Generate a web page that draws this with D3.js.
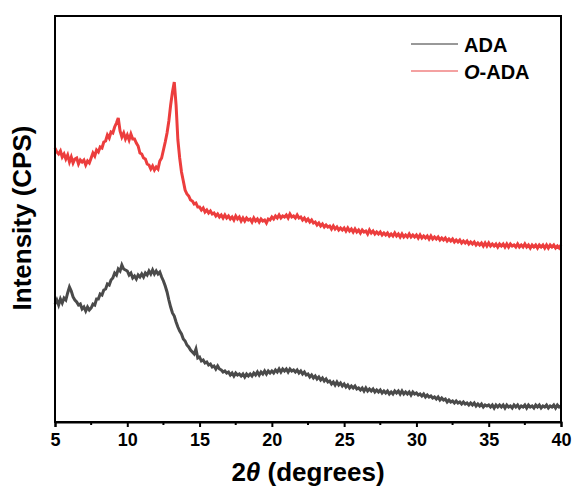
<!DOCTYPE html>
<html>
<head>
<meta charset="utf-8">
<script src="https://cdn.jsdelivr.net/npm/d3@7"></script>
<style>
  html, body { margin: 0; padding: 0; background: #fff; }
  svg { display: block; }
  text { font-family: "Liberation Sans", Arial, sans-serif; font-weight: bold; fill: #000; }
</style>
</head>
<body>
<svg id="chart" width="574" height="486"></svg>
<script>
// ---- data ----
const seriesNames = ["ADA", "O-ADA"];
const xTicks = [5, 10, 15, 20, 25, 30, 35, 40];
const xMinorTicks = [7.5, 12.5, 17.5, 22.5, 27.5, 32.5, 37.5];
const angleStart = 5, angleEnd = 40, angleStep = 0.125;
// intensities (CPS, arbitrary) sampled every 0.125 degrees from 5 to 40 (one row per degree)
const adaValues = [
  1180, 1220, 1170, 1230, 1190, 1240, 1220, 1290,   // 5
  1350, 1310, 1250, 1220, 1200, 1170, 1180, 1130,   // 6
  1150, 1110, 1150, 1120, 1140, 1180, 1170, 1230,   // 7
  1230, 1280, 1270, 1320, 1330, 1380, 1370, 1420,   // 8
  1440, 1490, 1470, 1530, 1510, 1570, 1530, 1520,   // 9
  1510, 1470, 1490, 1440, 1460, 1430, 1470, 1450,   // 10
  1480, 1450, 1490, 1470, 1510, 1480, 1520, 1480,   // 11
  1510, 1480, 1500, 1450, 1410, 1360, 1300, 1220,   // 12
  1150, 1090, 1060, 1000, 950, 910, 880, 830,       // 13
  810, 770, 750, 720, 700, 680, 730, 640,           // 14
  650, 610, 620, 590, 600, 570, 580, 550,           // 15
  560, 530, 560, 530, 520, 500, 510, 490,           // 16
  500, 470, 490, 460, 490, 470, 480, 460,           // 17
  480, 450, 480, 460, 480, 460, 490, 470,           // 18
  500, 470, 500, 480, 510, 480, 510, 490,           // 19
  510, 490, 520, 500, 530, 500, 530, 510,           // 20
  530, 500, 530, 510, 520, 500, 520, 490,           // 21
  510, 480, 500, 470, 480, 450, 470, 440,           // 22
  460, 430, 450, 420, 440, 410, 430, 400,           // 23
  410, 380, 400, 370, 400, 370, 390, 360,           // 24
  380, 350, 370, 340, 360, 340, 360, 330,           // 25
  340, 320, 340, 310, 340, 310, 330, 310,           // 26
  330, 300, 320, 300, 320, 290, 310, 290,           // 27
  310, 280, 300, 280, 310, 290, 310, 280,           // 28
  310, 280, 300, 280, 300, 270, 300, 280,           // 29
  290, 270, 280, 260, 280, 250, 270, 250,           // 30
  260, 240, 250, 230, 250, 220, 240, 220,           // 31
  230, 200, 220, 200, 210, 190, 210, 190,           // 32
  200, 180, 200, 180, 190, 170, 190, 170,           // 33
  190, 160, 180, 160, 180, 150, 170, 160,           // 34
  170, 150, 170, 140, 170, 150, 170, 150,           // 35
  170, 140, 170, 150, 160, 140, 170, 150,           // 36
  170, 140, 160, 150, 170, 140, 170, 150,           // 37
  160, 140, 170, 150, 170, 140, 160, 150,           // 38
  170, 140, 160, 150, 170, 140, 170, 150,           // 39
  160                                               // 40
];
const oAdaValues = [
  2740, 2700, 2680, 2710, 2650, 2680, 2630, 2670,   // 5
  2600, 2650, 2590, 2630, 2640, 2580, 2620, 2600,   // 6
  2620, 2570, 2610, 2590, 2640, 2690, 2660, 2720,   // 7
  2700, 2750, 2740, 2800, 2810, 2870, 2840, 2900,   // 8
  2890, 2950, 2990, 3040, 2910, 2850, 2890, 2830,   // 9
  2870, 2820, 2880, 2830, 2830, 2790, 2760, 2690,   // 10
  2680, 2640, 2630, 2580, 2570, 2530, 2560, 2520,   // 11
  2550, 2530, 2610, 2640, 2720, 2800, 2890, 3010,   // 12
  3170, 3300, 3400, 3170, 2820, 2640, 2500, 2410,   // 13
  2320, 2280, 2260, 2220, 2210, 2180, 2190, 2150,   // 14
  2150, 2120, 2140, 2100, 2120, 2090, 2110, 2080,   // 15
  2090, 2060, 2080, 2050, 2070, 2040, 2070, 2040,   // 16
  2060, 2030, 2050, 2020, 2060, 2030, 2050, 2010,   // 17
  2040, 2010, 2040, 2020, 2030, 2000, 2040, 2010,   // 18
  2030, 2000, 2030, 2010, 2020, 1990, 2030, 2020,   // 19
  2050, 2030, 2060, 2040, 2070, 2040, 2060, 2050,   // 20
  2070, 2040, 2080, 2050, 2060, 2040, 2070, 2040,   // 21
  2050, 2020, 2040, 2010, 2030, 2000, 2020, 1990,   // 22
  2000, 1970, 1990, 1960, 1980, 1950, 1970, 1950,   // 23
  1960, 1930, 1960, 1930, 1950, 1920, 1940, 1920,   // 24
  1940, 1910, 1940, 1910, 1930, 1900, 1930, 1900,   // 25
  1920, 1890, 1920, 1900, 1910, 1880, 1920, 1890,   // 26
  1910, 1880, 1900, 1880, 1900, 1870, 1890, 1870,   // 27
  1890, 1860, 1880, 1860, 1890, 1860, 1880, 1850,   // 28
  1880, 1850, 1870, 1850, 1880, 1850, 1870, 1850,   // 29
  1870, 1840, 1870, 1840, 1860, 1840, 1860, 1830,   // 30
  1860, 1830, 1850, 1830, 1850, 1820, 1840, 1820,   // 31
  1840, 1810, 1830, 1810, 1830, 1800, 1820, 1800,   // 32
  1820, 1790, 1810, 1790, 1810, 1780, 1800, 1780,   // 33
  1800, 1770, 1790, 1770, 1790, 1760, 1790, 1760,   // 34
  1790, 1760, 1780, 1760, 1780, 1750, 1780, 1760,   // 35
  1780, 1750, 1780, 1750, 1780, 1760, 1770, 1750,   // 36
  1780, 1750, 1770, 1750, 1780, 1750, 1770, 1740,   // 37
  1770, 1750, 1770, 1740, 1770, 1750, 1770, 1740,   // 38
  1770, 1740, 1770, 1750, 1770, 1740, 1760, 1740,   // 39
  1770                                              // 40
];
const yDomain = [0, 4060];

// ---- layout ----
const svg = d3.select("#chart");
const margin = { left: 55, right: 13, top: 16, bottom: 64 };
const W = 574, H = 486;
const x = d3.scaleLinear().domain([angleStart, angleEnd]).range([margin.left, W - margin.right]);
const y = d3.scaleLinear().domain(yDomain).range([H - margin.bottom, margin.top]);

const angles = adaValues.map((_, i) => angleStart + i * angleStep);
const colors = { "ADA": "#4a4a4a", "O-ADA": "#ec3d3d" };

const line = d3.line().x(d => x(d[0])).y(d => y(d[1]));

const plot = svg.append("g");
plot.append("path")
  .datum(angles.map((a, i) => [a, oAdaValues[i]]))
  .attr("d", line).attr("fill", "none")
  .attr("stroke", colors["O-ADA"]).attr("stroke-width", 3).attr("stroke-linejoin", "miter");
plot.append("path")
  .datum(angles.map((a, i) => [a, adaValues[i]]))
  .attr("d", line).attr("fill", "none")
  .attr("stroke", colors["ADA"]).attr("stroke-width", 3).attr("stroke-linejoin", "miter");

// frame
const x0 = x.range()[0], x1 = x.range()[1], y0 = y.range()[0], y1 = y.range()[1];
svg.append("rect").attr("x", x0).attr("y", y1).attr("width", x1 - x0).attr("height", y0 - y1)
  .attr("fill", "none").attr("stroke", "#000").attr("stroke-width", 2);

// bottom axis
const xAxis = d3.axisBottom(x).tickValues(xTicks).tickSize(5).tickPadding(6).tickFormat(d3.format("d"));
const gx = svg.append("g").attr("transform", `translate(0,${y0})`).call(xAxis);
gx.select(".domain").attr("stroke-width", 2);
gx.selectAll(".tick line").attr("stroke-width", 2);
gx.selectAll(".tick text").attr("font-size", 18).attr("font-family", "Liberation Sans, Arial, sans-serif")
  .attr("font-weight", "bold").attr("fill", "#000");
gx.selectAll(".minor").data(xMinorTicks).enter().append("line")
  .attr("x1", d => x(d)).attr("x2", d => x(d)).attr("y1", 0).attr("y2", 3)
  .attr("stroke", "#000").attr("stroke-width", 2);

// axis titles
const xt = svg.append("text").attr("x", (x0 + x1) / 2).attr("y", 481).attr("text-anchor", "middle").attr("font-size", 26);
xt.append("tspan").text("2");
xt.append("tspan").attr("font-style", "italic").text("θ");
xt.append("tspan").text(" (degrees)");

svg.append("text").attr("transform", `translate(31,${(y0 + y1) / 2 - 1}) rotate(-90)`)
  .attr("text-anchor", "middle").attr("font-size", 26).text("Intensity (CPS)");

// legend
const legend = svg.append("g");
const legendItems = [
  { name: "ADA", color: "#333333", y: 44, width: 1 },
  { name: "O-ADA", color: "#f08282", y: 71, width: 1.5 }
];
legendItems.forEach(it => {
  legend.append("line").attr("x1", 411).attr("x2", 458).attr("y1", it.y).attr("y2", it.y)
    .attr("stroke", it.color).attr("stroke-width", it.width);
  const t = legend.append("text").attr("x", 464).attr("y", it.y + 8).attr("font-size", 20);
  if (it.name === "O-ADA") {
    t.append("tspan").attr("font-style", "italic").text("O");
    t.append("tspan").text("-ADA");
  } else {
    t.text(it.name);
  }
});
</script>
</body>
</html>
